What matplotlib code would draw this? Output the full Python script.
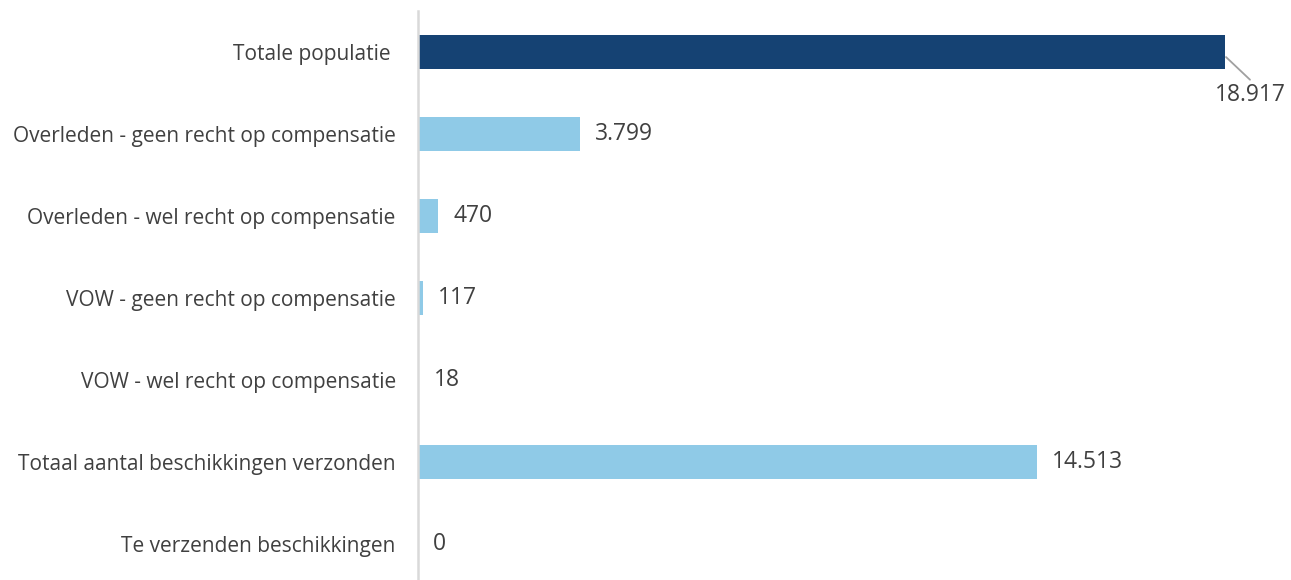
import matplotlib.pyplot as plt

plt.rcParams['font.family'] = ['Open Sans', 'DejaVu Sans']

categories = [
    'Totale populatie ',
    'Overleden - geen recht op compensatie',
    'Overleden - wel recht op compensatie',
    'VOW - geen recht op compensatie',
    'VOW - wel recht op compensatie',
    'Totaal aantal beschikkingen verzonden',
    'Te verzenden beschikkingen',
]
values = [18917, 3799, 470, 117, 18, 14513, 0]
value_labels = ['18.917', '3.799', '470', '117', '18', '14.513', '0']

dark = '#154273'
light = '#8fcae7'
text_col = '#404040'

fig = plt.figure(figsize=(12.91, 5.80), dpi=100)
ax = fig.add_axes([418 / 1291, -5 / 580, 873 / 1291, 574 / 580])

ypos = list(range(len(categories)))
colors = [dark] + [light] * (len(categories) - 1)
ax.barh(ypos, values, height=0.42, color=colors)

ax.set_ylim(len(categories) - 0.5, -0.5)
ax.set_xlim(0, 20464)

# value labels
for i, (v, lab) in enumerate(zip(values, value_labels)):
    if i == 0:
        # leader line from the bar corner, label below it
        ax.annotate('', xy=(v, i + 0.05), xytext=(18, -17), textcoords='offset points',
                    arrowprops=dict(arrowstyle='-', color='#a0a0a0', lw=1.3,
                                    shrinkA=0, shrinkB=1))
        ax.annotate(lab, xy=(v, i), xytext=(18, -31), textcoords='offset points',
                    ha='center', va='center', fontsize=16.5, color=text_col)
    else:
        ax.annotate(lab, xy=(v, i), xytext=(11, 0), textcoords='offset points',
                    ha='left', va='center', fontsize=16.5, color=text_col)

ax.set_yticks(ypos)
ax.set_yticklabels(categories, fontsize=15, color=text_col)
ax.tick_params(axis='y', length=0, pad=16)
ax.set_xticks([])

for s in ['top', 'right', 'bottom']:
    ax.spines[s].set_visible(False)
ax.spines['left'].set_color('#d9d9d9')
ax.spines['left'].set_linewidth(1.8)

fig.savefig('out.png', dpi=100)
